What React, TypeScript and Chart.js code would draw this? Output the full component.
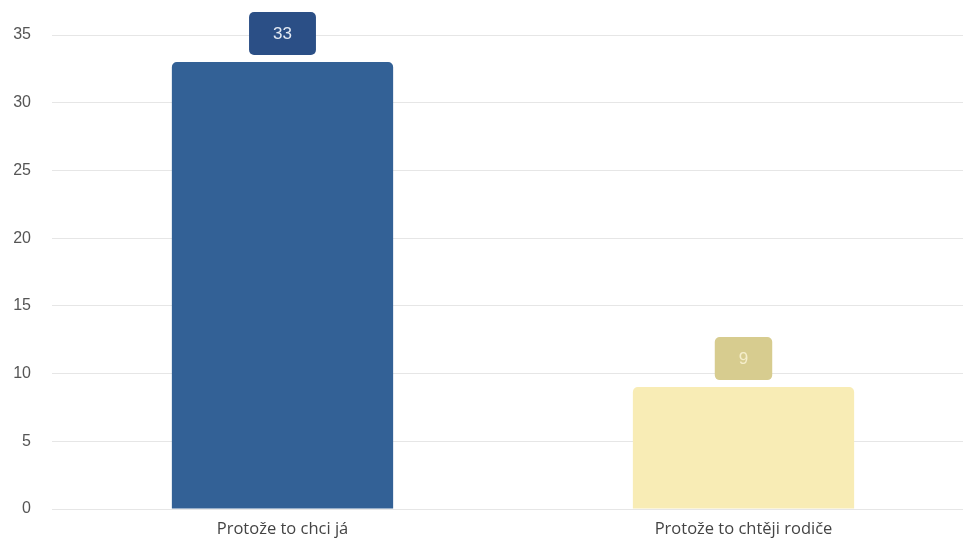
import React, { useEffect, useRef } from "react";
import { Chart, registerables } from "chart.js";

Chart.register(...registerables);

const categories = ["Protože to chci já", "Protože to chtěji rodiče"];
const values = [33, 9];
const barColors = ["#336196", "#f8ecb5"];
const labelBoxColors = ["#2b4f86", "#d7cc8f"];
const labelTextColors = ["#e4eaf3", "#f5eecb"];
const yTicks = [0, 5, 10, 15, 20, 25, 30, 35];

const valueLabelPlugin = {
  id: "valueLabels",
  afterDatasetsDraw(chart: any) {
    const ctx = chart.ctx;
    const meta = chart.getDatasetMeta(0);
    ctx.save();
    ctx.font = "17px 'Liberation Sans', Arial, sans-serif";
    ctx.textAlign = "center";
    ctx.textBaseline = "middle";
    meta.data.forEach((bar: any, i: number) => {
      const text = String(values[i]);
      const tw = ctx.measureText(text).width;
      const w = tw + 48;
      const h = 43;
      const x = bar.x - w / 2;
      const y = bar.y - 7 - h;
      ctx.fillStyle = labelBoxColors[i];
      ctx.beginPath();
      (ctx as any).roundRect(x, y, w, h, 5);
      ctx.fill();
      ctx.fillStyle = labelTextColors[i];
      ctx.fillText(text, bar.x, y + h / 2 + 1);
    });
    ctx.restore();
  },
};

export default function App() {
  const ref = useRef<HTMLCanvasElement>(null);
  useEffect(() => {
    if (!ref.current) return;
    const chart = new Chart(ref.current, {
      type: "bar",
      data: {
        labels: categories,
        datasets: [
          {
            data: values,
            backgroundColor: barColors,
            borderRadius: { topLeft: 5, topRight: 5, bottomLeft: 0, bottomRight: 0 },
            borderSkipped: "bottom",
            categoryPercentage: 0.8,
            barPercentage: 0.6,
          },
        ],
      },
      options: {
        animation: false,
        responsive: false,
        maintainAspectRatio: false,
        layout: { padding: { top: 35, right: 0, bottom: 0, left: 0 } },
        plugins: { legend: { display: false }, tooltip: { enabled: false } },
        scales: {
          x: {
            grid: { display: false, drawTicks: false },
            border: { display: false },
            ticks: {
              padding: 12,
              color: "#444",
              maxRotation: 0,
              font: { size: 16.5, family: "'Open Sans', sans-serif", lineHeight: 1 },
            },
            afterFit(scale: any) {
              scale.height = 29;
            },
          },
          y: {
            min: 0,
            max: 35,
            afterBuildTicks(scale: any) {
              scale.ticks = yTicks.map((v) => ({ value: v }));
            },
            grid: { color: "#e6e6e6", drawTicks: false, lineWidth: 1 },
            border: { display: false },
            ticks: {
              padding: 21,
              color: "#555",
              font: { size: 16, family: "'Liberation Sans', Arial, sans-serif" },
            },
            afterFit(scale: any) {
              scale.width = 52;
              scale.paddingTop = 0;
              scale.paddingBottom = 0;
            },
          },
        },
      },
      plugins: [valueLabelPlugin],
    });
    return () => chart.destroy();
  }, []);
  return (
    <div
      style={{
        position: "fixed",
        left: 0,
        top: 0,
        width: 963,
        height: 538,
        overflow: "hidden",
        background: "#fff",
      }}
    >
      <canvas ref={ref} width={974} height={538} style={{ display: "block", width: 974, height: 538 }} />
    </div>
  );
}
